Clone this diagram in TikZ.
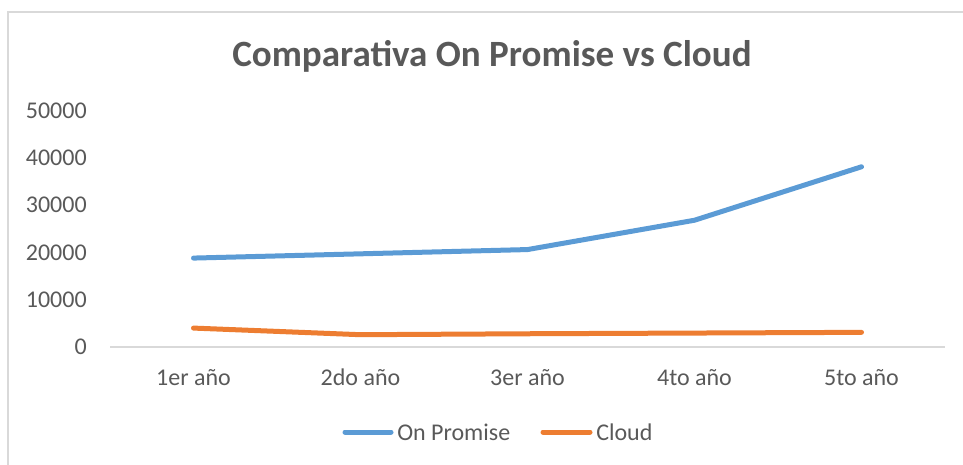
\documentclass[tikz,border=0pt]{standalone}
\usepackage{fontspec}
\setmainfont{Carlito}
\definecolor{opblue}{HTML}{5B9BD5}
\definecolor{cloudorange}{HTML}{ED7D31}
\definecolor{labelgray}{HTML}{595959}
\definecolor{linegray}{HTML}{D9D9D9}
\tikzset{
  ticklabel/.style={text=labelgray, font=\fontsize{18}{20}\selectfont, inner sep=0pt},
  series/.style={line width=3.75pt, line cap=round, line join=round}
}
\begin{document}
\begin{tikzpicture}[x=0.75pt,y=-0.75pt]
    \useasboundingbox (0,0) rectangle (963,464);
    % Frame
    \draw[linegray, line width=1.2pt] (8,470) -- (8,12) -- (970,12);

    % Title
    \node[text=labelgray, font=\fontsize{27.8}{30}\selectfont\bfseries] (title) at (492,56) {Comparativa On Promise vs Cloud};

    % Value axis labels
    \foreach \v [count=\i from 0] in {0,10000,20000,30000,40000,50000}
        \node[ticklabel, anchor=east] (yl\i) at (87,347-47.3*\i) {\v};

    % Category axis
    \draw[linegray, line width=1.5pt] (110,347) -- (945,347);
    \foreach \c [count=\i from 0] in {1er año,2do año,3er año,4to año,5to año}
        \node[ticklabel, anchor=base] (cat\i) at (193.5+167*\i,385) {\c};

    % Data in thousands
    \begin{scope}[shift={(0,347)}, y=3.5475pt]
        \draw[series, opblue] (193.5,18.8) -- (360.5,19.7) -- (527.5,20.6) -- (694.5,26.8) -- (861.5,38.1);
        \draw[series, cloudorange] (193.5,4.0) -- (360.5,2.6) -- (527.5,2.8) -- (694.5,2.95) -- (861.5,3.1);
    \end{scope}

    % Legend
    \draw[series, opblue] (345,432) -- (391,432);
    \node[ticklabel, anchor=west] (legop) at (397,432) {On Promise};
    \draw[series, cloudorange] (543,432) -- (590,432);
    \node[ticklabel, anchor=west] (legcl) at (596,432) {Cloud};
\end{tikzpicture}
\end{document}
